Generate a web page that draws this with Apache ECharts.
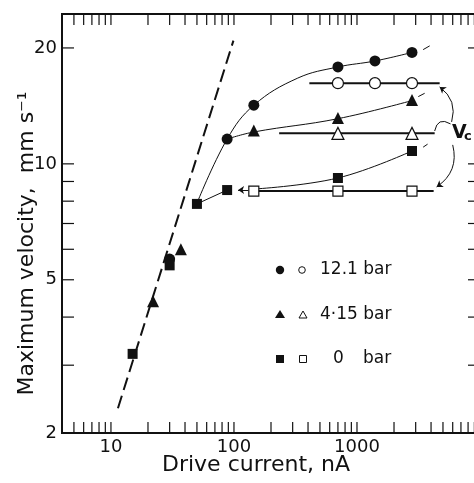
<!DOCTYPE html>
<html><head><meta charset="utf-8">
<script src="https://cdn.jsdelivr.net/npm/echarts@6/dist/echarts.min.js"></script>
<style>html,body{margin:0;padding:0;background:#fff;overflow:hidden}#c{width:480px;height:483px}</style>
</head><body><div id="c"></div>
<script>
const FONT = 'DejaVu Sans';
const INK = '#111';
const X_MIN = 4, X_MAX = 10000, Y_MIN = 2, Y_MAX = 24.5;

// tick values
const xTickValues = [5,6,7,8,9,10,20,30,40,50,60,70,80,90,100,200,300,400,500,600,700,800,900,1000,2000,3000,4000,5000,6000,7000,8000,9000];
const xLabelValues = [10,100,1000];
const yTickValues = [3,4,5,6,7,8,9,10,20];
const yLabelValues = [2,5,10,20];

// 12.1 bar
const filledCircles = [[30,5.66],[88,11.6],[145,14.2],[700,17.85],[1400,18.5],[2800,19.47]];
const curve121 = [[50,7.9],[88,11.6],[145,14.2],[330,16.7],[700,17.85],[1400,18.5],[2800,19.47]];
const tail121 = [[3450,19.8],[3900,20.25]];
const openCircles = [[700,16.2],[1400,16.2],[2800,16.2]];
const vcLine121 = [[410,16.2],[4700,16.2]];

// 4.15 bar
const filledTriangles = [[22,4.4],[37,6.0],[145,12.2],[700,13.15],[2800,14.65]];
const curve415 = [[88,11.6],[145,12.1],[700,13.1],[2800,14.6]];
const tail415 = [[3150,14.95],[3550,15.25]];
const openTriangles = [[700,12.0],[2800,12.0]];
const vcLine415 = [[233,12.0],[4280,12.0]];

// 0 bar
const filledSquares = [[15,3.21],[30,5.45],[50,7.87],[88,8.55],[700,9.19],[2800,10.8]];
const curve0a = [[50,7.87],[88,8.55]];
const curve0b = [[145,8.6],[700,9.19],[2800,10.8]];
const tail0 = [[3450,11.05],[3750,11.25]];
const openSquares = [[145,8.5],[700,8.5],[2800,8.5]];
const vcLine0 = [[145,8.5],[4200,8.5]];

// ideal (dashed) line
const idealLine = [[11.4,2.32],[99,20.9]];

// annotation arrows
const arrowBack = [[131,8.55],[108,8.55]];
const vcArcUp = [[5880,12.85],[4700,15.84]];
const vcHook = [[5760,12.7],[4280,12.17]];
const vcArcDown = [[6000,11.2],[4440,8.71]];

const TICK = 11;
function xTickItem(params, api) {
  const v = api.value(0);
  const b = api.coord([v, Y_MIN]);
  const t = api.coord([v, Y_MAX]);
  return {type:'group', children:[
    {type:'line', shape:{x1:b[0],y1:b[1],x2:b[0],y2:b[1]-TICK}, style:{stroke:INK,lineWidth:1.2}},
    {type:'line', shape:{x1:t[0],y1:t[1],x2:t[0],y2:t[1]+TICK}, style:{stroke:INK,lineWidth:1.2}}
  ]};
}
function yTickItem(params, api) {
  const v = api.value(1);
  const l = api.coord([X_MIN, v]);
  const r = api.coord([X_MAX, v]);
  return {type:'group', children:[
    {type:'line', shape:{x1:l[0],y1:l[1],x2:l[0]+TICK+1,y2:l[1]}, style:{stroke:INK,lineWidth:1.2}},
    {type:'line', shape:{x1:r[0],y1:r[1],x2:r[0]-TICK-1,y2:r[1]}, style:{stroke:INK,lineWidth:1.2}}
  ]};
}
function xLabelItem(params, api) {
  const v = api.value(0);
  const p = api.coord([v, Y_MIN]);
  return {type:'text', x:p[0], y:p[1]+14, style:{text:String(v), font:'18px "'+FONT+'"', fill:INK, align:'center', verticalAlign:'middle'}};
}
function yLabelItem(params, api) {
  const v = api.value(1);
  const p = api.coord([X_MIN, v]);
  return {type:'text', x:p[0]-5, y:p[1], style:{text:String(v), font:'18px "'+FONT+'"', fill:INK, align:'right', verticalAlign:'middle'}};
}

const thin = {color:INK, width:1};
const thick = {color:INK, width:2};
function lineS(data, style, extra) {
  return Object.assign({type:'line', data:data, showSymbol:false, symbol:'none', lineStyle:style, silent:true, z:2}, extra||{});
}
function filledS(data, symbol, size) {
  return {type:'scatter', data:data, symbol:symbol, symbolSize:size, itemStyle:{color:INK, opacity:1}, silent:true, z:5};
}
function openS(data, symbol, size) {
  return {type:'scatter', data:data, symbol:symbol, symbolSize:size, itemStyle:{color:'#fff', borderColor:INK, borderWidth:1.2, opacity:1}, silent:true, z:5};
}
function arcS(data, curveness, arrow) {
  return {type:'lines', coordinateSystem:'cartesian2d', data:[{coords:data}], symbol: arrow ? ['none','arrow'] : ['none','none'], symbolSize:[0,6], lineStyle:{color:INK, width:1, curveness:curveness, opacity:1}, silent:true, z:3};
}

const chart = echarts.init(document.getElementById('c'), null, {renderer:'canvas'});
chart.setOption({
  animation:false,
  backgroundColor:'#fff',
  grid:{left:62, right:0, top:14, bottom:50, show:true, borderColor:INK, borderWidth:2, backgroundColor:'transparent'},
  xAxis:{type:'log', logBase:10, min:X_MIN, max:X_MAX,
    axisLine:{show:false}, axisTick:{show:false}, axisLabel:{show:false}, splitLine:{show:false}, minorTick:{show:false},
    name:'Drive current, nA', nameLocation:'middle', nameGap:21,
    nameTextStyle:{fontFamily:FONT, fontSize:22, color:INK, padding:[0,30,0,0]}},
  yAxis:{type:'log', logBase:10, min:Y_MIN, max:Y_MAX,
    axisLine:{show:false}, axisTick:{show:false}, axisLabel:{show:false}, splitLine:{show:false}, minorTick:{show:false},
    name:'Maximum velocity,  mm s\u207B\u00B9', nameLocation:'middle', nameGap:24, nameRotate:90,
    nameTextStyle:{fontFamily:FONT, fontSize:22, color:INK, padding:[0,40,0,0]}},
  series:[
    {type:'custom', renderItem:xTickItem, data:xTickValues.map(v=>[v,Y_MIN]), silent:true, clip:false, z:1},
    {type:'custom', renderItem:yTickItem, data:yTickValues.map(v=>[X_MIN,v]), silent:true, clip:false, z:1},
    {type:'custom', renderItem:xLabelItem, data:xLabelValues.map(v=>[v,Y_MIN]), silent:true, clip:false, z:1},
    {type:'custom', renderItem:yLabelItem, data:yLabelValues.map(v=>[X_MIN,v]), silent:true, clip:false, z:1},
    lineS(idealLine, {color:INK, width:2, type:[13,6]}),
    lineS(curve121, thin, {smooth:0.4}),
    lineS(tail121, thin),
    lineS(vcLine121, thick),
    lineS(curve415, thin, {smooth:0.4}),
    lineS(tail415, thin),
    lineS(vcLine415, thick),
    lineS(curve0a, thin),
    lineS(curve0b, thin, {smooth:0.4}),
    lineS(tail0, thin),
    lineS(vcLine0, thick),
    arcS(arrowBack, 0, true),
    arcS(vcArcUp, -0.35, true),
    arcS(vcHook, -0.7, false),
    arcS(vcArcDown, 0.35, true),
    filledS(filledCircles, 'circle', 11),
    filledS(filledTriangles, 'triangle', 12),
    filledS(filledSquares, 'rect', 10),
    openS(openCircles, 'circle', 11),
    openS(openTriangles, 'triangle', 12),
    openS(openSquares, 'rect', 10)
  ],
  graphic:[
    {type:'circle', shape:{cx:280, cy:270, r:4.2}, style:{fill:INK}},
    {type:'circle', shape:{cx:302, cy:270, r:3.3}, style:{fill:'#fff', stroke:INK, lineWidth:1}},
    {type:'text', x:320, y:270, style:{text:'12.1 bar', font:'17px "'+FONT+'"', fill:INK, verticalAlign:'middle'}},
    {type:'polygon', shape:{points:[[275,318],[285,318],[280,310]]}, style:{fill:INK}},
    {type:'polygon', shape:{points:[[299,318],[307,318],[303,311]]}, style:{fill:'#fff', stroke:INK, lineWidth:1}},
    {type:'text', x:320, y:315, style:{text:'4\u00B715 bar', font:'17px "'+FONT+'"', fill:INK, verticalAlign:'middle'}},
    {type:'rect', shape:{x:276, y:355, width:8, height:8}, style:{fill:INK}},
    {type:'rect', shape:{x:299.5, y:355.5, width:7, height:7}, style:{fill:'#fff', stroke:INK, lineWidth:1}},
    {type:'text', x:333, y:359, style:{text:'0', font:'17px "'+FONT+'"', fill:INK, verticalAlign:'middle'}},
    {type:'text', x:363, y:359, style:{text:'bar', font:'17px "'+FONT+'"', fill:INK, verticalAlign:'middle'}},
    {type:'text', x:452, y:133, style:{text:'V', font:'bold 19px "'+FONT+'"', fill:INK, verticalAlign:'middle'}},
    {type:'text', x:464, y:137, style:{text:'c', font:'bold 13px "'+FONT+'"', fill:INK, verticalAlign:'middle'}}
  ]
});
</script></body></html>
